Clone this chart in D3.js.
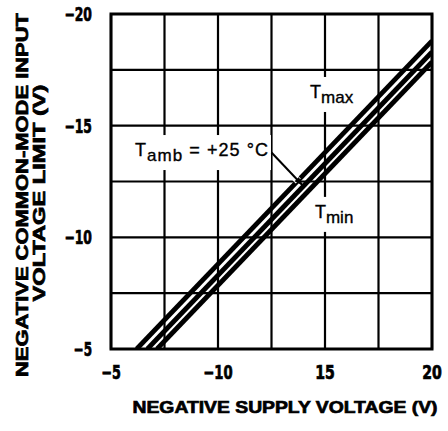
<!DOCTYPE html>
<meta charset="utf-8" />
<style>
  body { margin: 0; background: #fff; }
  svg { display: block; }
</style>
<body>
  <div id="chart"></div>
  <script src="https://cdn.jsdelivr.net/npm/d3@7"></script>
  <script>
    // supply voltage (magnitude, V) vs common-mode limit (magnitude, V)
    const tMax = [[6.2, 5], [20, 18.8]];
    const tAmb = [[6.7, 5], [20, 18.3]];
    const tMin = [[7.15, 5], [20, 17.85]];

    const xTicks = [5, 10, 15, 20];
    const xTickLabels = ["\u22125", "\u221210", "15", "20"];
    const yTicks = [20, 15, 10, 5];
    const yTickLabels = ["\u221220", "\u221215", "\u221210", "\u22125"];
    const gridSteps = [5, 7.5, 10, 12.5, 15, 17.5, 20];

    const width = 448, height = 431;
    const margin = { top: 14, right: 16, bottom: 82, left: 111 };

    const svg = d3.select("#chart").append("svg").attr("width", width).attr("height", height);

    const x = d3.scaleLinear().domain([5, 20]).range([margin.left, width - margin.right]);
    const y = d3.scaleLinear().domain([20, 5]).range([margin.top, height - margin.bottom]);

    svg.append("clipPath").attr("id", "plot")
      .append("rect")
      .attr("x", x(5)).attr("y", y(20))
      .attr("width", x(20) - x(5)).attr("height", y(5) - y(20));

    // grid
    svg.append("g")
      .selectAll("line.v")
      .data(gridSteps)
      .enter()
      .append("line")
      .attr("x1", (d) => x(d)).attr("x2", (d) => x(d))
      .attr("y1", y(20)).attr("y2", y(5))
      .attr("stroke", "#000").attr("stroke-width", 2.2);

    svg.append("g")
      .selectAll("line.h")
      .data(gridSteps)
      .enter()
      .append("line")
      .attr("y1", (d) => y(d)).attr("y2", (d) => y(d))
      .attr("x1", x(5)).attr("x2", x(20))
      .attr("stroke", "#000").attr("stroke-width", 2.2);

    svg.append("rect")
      .attr("x", x(5)).attr("y", y(20))
      .attr("width", x(20) - x(5)).attr("height", y(5) - y(20))
      .attr("fill", "none").attr("stroke", "#000").attr("stroke-width", 3);

    // curves
    const line = d3.line().x((d) => x(d[0])).y((d) => y(d[1]));
    svg.append("g")
      .attr("clip-path", "url(#plot)")
      .selectAll("path")
      .data([tMax, tAmb, tMin])
      .enter()
      .append("path")
      .attr("d", line)
      .attr("fill", "none")
      .attr("stroke", "#000")
      .attr("stroke-width", 4.8);

    // annotations
    function label(xv, yv, main, sub, rest, len) {
      const g = svg.append("g");
      const t = g.append("text")
        .attr("x", x(xv)).attr("y", y(yv))
        .attr("font-family", "'Liberation Sans', Arial, sans-serif")
        .attr("font-size", "18px")
        .attr("fill", "#000")
        .attr("stroke", "#000")
        .attr("stroke-width", 0.35);
      t.append("tspan").text(main);
      t.append("tspan").attr("dy", 5).attr("font-size", "17px").text(sub);
      if (rest) t.append("tspan").attr("dy", -5).text(rest);
      if (len) t.attr("textLength", len).attr("lengthAdjust", "spacing");
      const bb = t.node().getBBox();
      g.insert("rect", "text")
        .attr("x", bb.x - 3).attr("y", bb.y - 5)
        .attr("width", bb.width + 6).attr("height", bb.height + 10)
        .attr("fill", "#fff");
    }

    label(14.3, 16.24, "T", "max");
    label(14.53, 10.87, "T", "min");
    label(6.12, 13.64, "T", "amb", " = +25 \u00B0C", 133);

    // arrow to the ambient curve
    const arrowFrom = [12.5, 13.8], arrowTo = [13.95, 12.33];
    svg.append("line")
      .attr("x1", x(13.3)).attr("y1", y(12.96))
      .attr("x2", x(13.75)).attr("y2", y(12.52))
      .attr("stroke", "#fff").attr("stroke-width", 7);
    svg.append("line")
      .attr("x1", x(arrowFrom[0])).attr("y1", y(arrowFrom[1]))
      .attr("x2", x(arrowTo[0])).attr("y2", y(arrowTo[1]))
      .attr("stroke", "#000").attr("stroke-width", 2);
    const ang = Math.atan2(y(arrowTo[1]) - y(arrowFrom[1]), x(arrowTo[0]) - x(arrowFrom[0]));
    const tx = x(arrowTo[0]), ty = y(arrowTo[1]);
    svg.append("path")
      .attr("d", `M${tx},${ty}L${tx - 9 * Math.cos(ang - 0.35)},${ty - 9 * Math.sin(ang - 0.35)}L${tx - 9 * Math.cos(ang + 0.35)},${ty - 9 * Math.sin(ang + 0.35)}Z`)
      .attr("fill", "#000");

    // tick labels
    const tickFont = "'DejaVu Sans Condensed', 'DejaVu Sans', sans-serif";
    svg.append("g")
      .selectAll("text")
      .data(xTicks)
      .enter()
      .append("text")
      .attr("x", (d) => x(d))
      .attr("y", y(5) + 30)
      .attr("text-anchor", "middle")
      .attr("font-family", tickFont)
      .attr("font-weight", "bold")
      .attr("font-size", "19px")
      .attr("stroke", "#000").attr("stroke-width", 0.7)
      .attr("textLength", (d, i) => xTickLabels[i].length * 9.8)
      .attr("lengthAdjust", "spacingAndGlyphs")
      .text((d, i) => xTickLabels[i]);

    svg.append("g")
      .selectAll("text")
      .data(yTicks)
      .enter()
      .append("text")
      .attr("x", x(5) - 19)
      .attr("y", (d) => y(d) + 7)
      .attr("text-anchor", "end")
      .attr("font-family", tickFont)
      .attr("font-weight", "bold")
      .attr("font-size", "19px")
      .attr("stroke", "#000").attr("stroke-width", 0.7)
      .attr("textLength", (d, i) => yTickLabels[i].length * 9.2)
      .attr("lengthAdjust", "spacingAndGlyphs")
      .text((d, i) => yTickLabels[i]);

    // axis titles
    const titleFont = "'Liberation Sans', Arial, sans-serif";
    svg.append("text")
      .attr("x", 285).attr("y", 413)
      .attr("text-anchor", "middle")
      .attr("font-family", titleFont)
      .attr("font-weight", "bold")
      .attr("font-size", "17px")
      .attr("stroke", "#000").attr("stroke-width", 0.7)
      .attr("textLength", 305)
      .attr("lengthAdjust", "spacingAndGlyphs")
      .text("NEGATIVE SUPPLY VOLTAGE (V)");

    svg.append("text")
      .attr("transform", "translate(28,195) rotate(-90)")
      .attr("text-anchor", "middle")
      .attr("font-family", titleFont)
      .attr("font-weight", "bold")
      .attr("font-size", "17px")
      .attr("stroke", "#000").attr("stroke-width", 0.7)
      .attr("textLength", 364)
      .attr("lengthAdjust", "spacingAndGlyphs")
      .text("NEGATIVE COMMON-MODE INPUT");

    svg.append("text")
      .attr("transform", "translate(45,193) rotate(-90)")
      .attr("text-anchor", "middle")
      .attr("font-family", titleFont)
      .attr("font-weight", "bold")
      .attr("font-size", "17px")
      .attr("stroke", "#000").attr("stroke-width", 0.7)
      .attr("textLength", 217)
      .attr("lengthAdjust", "spacingAndGlyphs")
      .text("VOLTAGE LIMIT (V)");
  </script>
</body>
